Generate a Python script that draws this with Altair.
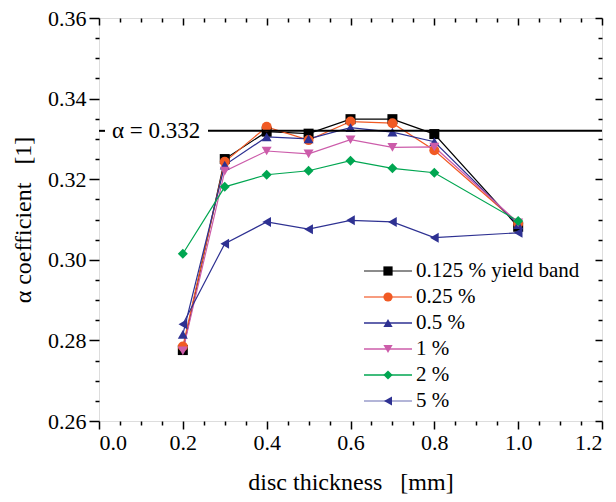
import altair as alt
import pandas as pd

# ---------------- data ----------------
thickness = [0.2, 0.3, 0.4, 0.5, 0.6, 0.7, 0.8, 1.0]
series_names = ["0.125 % yield band", "0.25 %", "0.5 %", "1 %", "2 %", "5 %"]
s_0125 = [0.2776, 0.3250, 0.3318, 0.3313, 0.3349, 0.3349, 0.3312, 0.3082]
s_025 = [0.2785, 0.3243, 0.3330, 0.3297, 0.3343, 0.3339, 0.3272, 0.3090]
s_05 = [0.2815, 0.3235, 0.3305, 0.3300, 0.3328, 0.3317, 0.3293, 0.3087]
s_1 = [0.2774, 0.3220, 0.3270, 0.3263, 0.3298, 0.3279, 0.3280, 0.3092]
s_2 = [0.3015, 0.3181, 0.3211, 0.3221, 0.3246, 0.3227, 0.3216, 0.3096]
s_5 = [0.2840, 0.3040, 0.3094, 0.3076, 0.3098, 0.3094, 0.3055, 0.3067]
all_series = [s_0125, s_025, s_05, s_1, s_2, s_5]
ref_alpha = 0.332
ref_label = "α = 0.332"

x_major = [0.0, 0.2, 0.4, 0.6, 0.8, 1.0, 1.2]
x_minor = [0.05, 0.1, 0.15, 0.25, 0.3, 0.35, 0.45, 0.5, 0.55, 0.65, 0.7, 0.75,
           0.85, 0.9, 0.95, 1.05, 1.1, 1.15]
y_major = [0.26, 0.28, 0.30, 0.32, 0.34, 0.36]
y_minor = [0.265, 0.27, 0.275, 0.285, 0.29, 0.295, 0.305, 0.31, 0.315,
           0.325, 0.33, 0.335, 0.345, 0.35, 0.355]

colors = ["#000000", "#F15A24", "#2E3192", "#CC5CAA", "#00A651", "#2E3192"]
legend_line_colors = ["#666666", "#F47B55", "#2E3192", "#CC5CAA", "#00A651", "#9A9CCB"]
shapes = ["square", "circle", "triangle-up", "triangle-down", "diamond", "triangle-left"]

rows = []
for name, vals in zip(series_names, all_series):
    for t, v in zip(thickness, vals):
        rows.append({"series": name, "t": t, "alpha": v})
df = pd.DataFrame(rows)
legend_df = pd.DataFrame({"series": series_names})
dummy = pd.DataFrame({"t": [0.0], "alpha": [0.26]})

# ---------------- style ----------------
W, H = 503, 403
FONT = "Times New Roman"
xs = alt.Scale(domain=[0, 1.2], nice=False, zero=False)
ys = alt.Scale(domain=[0.26, 0.36], nice=False, zero=False)

common = dict(domain=False, grid=False, tickColor="black", tickWidth=1.5)

ax_x = alt.Axis(values=x_major, format=".1f", tickSize=8, labelFont=FONT,
                labelFontSize=22, labelColor="black", labelPadding=3,
                title="disc thickness\u00a0\u00a0\u00a0[mm]", titleFont=FONT,
                titleFontSize=24, titleFontWeight="normal", titleColor="black",
                titlePadding=17, **common)
ax_y = alt.Axis(values=y_major, format=".2f", tickSize=10, labelFont=FONT,
                labelFontSize=22, labelColor="black", labelPadding=3,
                title="α coefficient\u00a0\u00a0\u00a0[1]", titleFont=FONT,
                titleFontSize=24, titleFontWeight="normal", titleColor="black",
                titlePadding=12, **common)

color = alt.Color("series:N", scale=alt.Scale(domain=series_names, range=colors), legend=None)
shape = alt.Shape("series:N", scale=alt.Scale(domain=series_names, range=shapes), legend=None)

X = alt.X("t:Q", scale=xs, axis=ax_x)
Y = alt.Y("alpha:Q", scale=ys, axis=ax_y)

base = alt.Chart(df)
lines = base.mark_line(strokeWidth=1.2).encode(x=X, y=Y, color=color, detail="series:N",
                                               order="t:Q")
points = base.mark_point(filled=True, size=100, opacity=1).encode(x=X, y=Y, color=color, shape=shape)

ref_rule1 = alt.Chart(dummy).mark_rule(color="black", strokeWidth=2).encode(
    y=alt.datum(ref_alpha), x=alt.value(0), x2=alt.value(6))
ref_rule2 = alt.Chart(dummy).mark_rule(color="black", strokeWidth=2).encode(
    y=alt.datum(ref_alpha), x=alt.value(109), x2=alt.value(W))
ref_text = alt.Chart(dummy).mark_text(align="left", baseline="middle", font=FONT,
                                      fontSize=23, color="black").encode(
    y=alt.datum(ref_alpha), x=alt.value(13), text=alt.value(ref_label))

main = alt.layer(lines, points, ref_rule1, ref_rule2, ref_text)


def aux(xvals, yvals, tsize, xoff, yoff):
    axx = alt.Axis(values=xvals, tickSize=tsize, labels=False, title=None,
                   orient="bottom", offset=xoff, **common)
    axy = alt.Axis(values=yvals, tickSize=tsize, labels=False, title=None,
                   orient="left", offset=yoff, **common)
    return alt.Chart(dummy).mark_point(opacity=0).encode(
        x=alt.X("t:Q", scale=xs, axis=axx), y=alt.Y("alpha:Q", scale=ys, axis=axy))


aux_minor = aux(x_minor, y_minor, 4, 0, 0)
aux_top_right_major = aux(x_major, y_major, 7, -H, -W)
aux_top_right_minor = aux(x_minor, y_minor, 4, -H, -W)

leg_y = alt.Y("series:N", scale=alt.Scale(type="point", domain=series_names,
                                          range=[253, 383], padding=0), axis=None)
leg_lines = alt.Chart(legend_df).mark_rule(strokeWidth=1.5).encode(
    x=alt.value(265), x2=alt.value(313), y=leg_y,
    stroke=alt.Stroke("series:N", scale=alt.Scale(domain=series_names, range=legend_line_colors),
                      legend=None))
leg_pts = alt.Chart(legend_df).mark_point(filled=True, size=85, opacity=1).encode(
    x=alt.value(289), y=leg_y, color=color, shape=shape)
leg_text = alt.Chart(legend_df).mark_text(align="left", baseline="middle", font=FONT,
                                          fontSize=21, color="black").encode(
    x=alt.value(317), y=leg_y, text="series:N")
legend = alt.layer(leg_lines, leg_pts, leg_text)

chart = alt.layer(main, aux_minor, aux_top_right_major, aux_top_right_minor, legend).resolve_scale(
    x="independent", y="independent"
).properties(
    width=W, height=H,
    autosize=alt.AutoSizeParams(type="none"),
    padding={"left": 91, "top": 10, "right": 6, "bottom": 76},
).configure_view(stroke="black", strokeWidth=1.8).configure(
    background="white", font=FONT
).configure_axis(labelFont=FONT, titleFont=FONT).configure_text(font=FONT)

chart.save("out.html", embed_options={"renderer": "svg", "actions": False})
